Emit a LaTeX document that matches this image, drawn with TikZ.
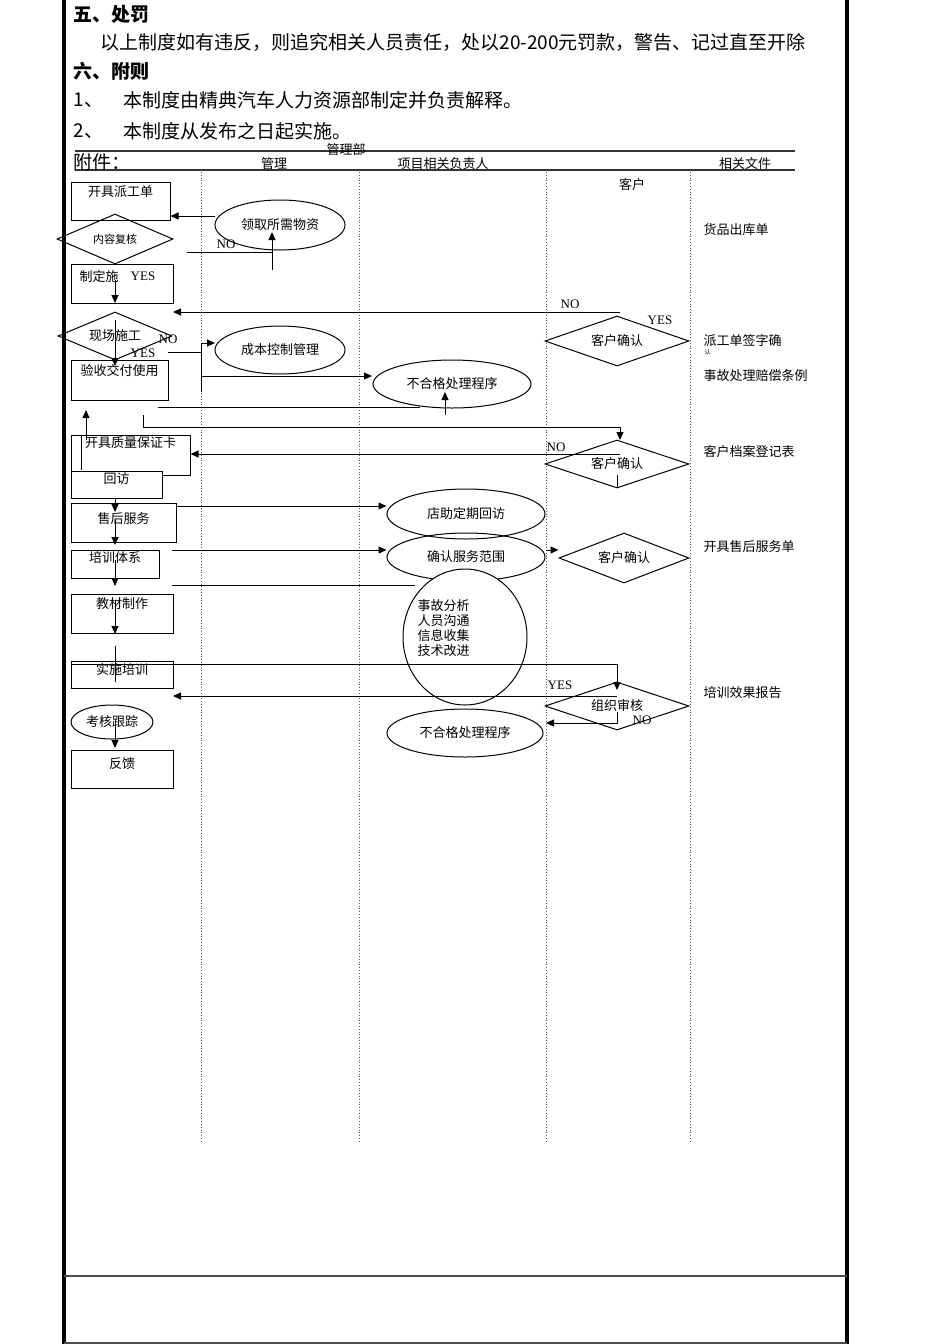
\documentclass[tikz,border=0pt]{standalone}
\usepackage{fontspec}
\setmainfont{Noto Sans CJK SC}
\newfontfamily\lat{Liberation Serif}
\usetikzlibrary{shapes.geometric,arrows.meta}
\begin{document}
\begin{tikzpicture}[x=0.5pt,y=-0.5pt,line width=0.5pt,
  every node/.style={font=\fontsize{6.5}{7.5}\selectfont,inner sep=0pt},
  box/.style={draw,rectangle},
  dia/.style={draw,diamond,aspect=2.6},
  ell/.style={draw,ellipse},
  lab/.style={font=\lat\fontsize{6.5}{7.5}\selectfont},
  doc/.style={anchor=west},
  body/.style={anchor=west,font=\fontsize{9.5}{11}\selectfont},
  arr/.style={-{Triangle[length=4pt,width=3.5pt]}},
  lane/.style={densely dotted,line width=0.4pt,gray!70!black}]
\useasboundingbox (0,0) rectangle (950,1344);
% frame
\draw[line width=1.6pt] (64,0) -- (64,1344);
\draw[line width=1.6pt] (847,0) -- (847,1344);
\draw[line width=0.9pt,gray!60!black] (64,1276) -- (847,1276);
\draw[line width=0.9pt,gray!60!black] (64,1343) -- (847,1343);
% top text
\node[body,font=\bfseries\fontsize{9.5}{11}\selectfont] (t1) at (73,14) {五、处罚};
\node[body] (t2) at (100,42) {以上制度如有违反，则追究相关人员责任，处以20-200元罚款，警告、记过直至开除};
\node[body,font=\bfseries\fontsize{9.5}{11}\selectfont] (t3) at (73,71) {六、附则};
\node[body] (t4) at (73,100) {1、};
\node[body] (t5) at (123,100) {本制度由精典汽车人力资源部制定并负责解释。};
\node[body] (t6) at (73,131) {2、};
\node[body] (t7) at (123,131) {本制度从发布之日起实施。};
% header
\draw[line width=0.8pt,gray!40!black] (75,151) -- (795,151);
\draw[line width=0.8pt,gray!40!black] (75,170) -- (795,170);
\node (h0) at (346,150) {管理部};
\node[body] (h1) at (73,162) {附件：};
\node (h2) at (274,164) {管理};
\node (h3) at (443,164) {项目相关负责人};
\node (h4) at (745,164) {相关文件};
\node (h5) at (632,185) {客户};
% lanes
\foreach \x in {201,359,546,690} \draw[lane] (\x,172) -- (\x,1143);
% boxes
\node[box,minimum width=49.5pt,minimum height=19pt,label={[anchor=north,yshift=-2pt]north:开具派工单}] (b1) at (120.5,201) {};
\node[dia,minimum width=58pt,minimum height=25pt,font=\fontsize{5.5}{6}\selectfont] (d1) at (115,239) {内容复核};
\node[ell,minimum width=65pt,minimum height=25pt] (e1) at (280,225) {领取所需物资};
\node[box,minimum width=51pt,minimum height=19.5pt] (b2) at (122,283.5) {};
\node[anchor=west] (b2t) at (79,277) {制定施};
\node[lab] (y1) at (143,276) {YES};
\node[dia,minimum width=57pt,minimum height=24pt] (d2) at (115,336) {现场施工};
\node[box,minimum width=48.5pt,minimum height=20pt,label={[anchor=north,yshift=-2pt]north:验收交付使用}] (b3) at (119.5,380) {};
\node[ell,minimum width=65pt,minimum height=24pt] (e2) at (280,350) {成本控制管理};
\node[ell,minimum width=79pt,minimum height=24pt] (e3) at (452,384) {不合格处理程序};
\node[dia,minimum width=72pt,minimum height=25pt] (d3) at (617,341) {客户确认};
\node[box,minimum width=59.5pt,minimum height=20pt,label={[anchor=north,yshift=-1pt]north:开具质量保证卡}] (b4) at (130.5,455) {};
\node[dia,minimum width=72pt,minimum height=24pt] (d4) at (617,464) {客户确认};
\node[box,fill=white,minimum width=45.5pt,minimum height=13.5pt,label={[anchor=north,yshift=-1pt]north:回访}] (b5) at (116.5,484.5) {};
\node[box,minimum width=52.5pt,minimum height=19.5pt,label={[anchor=north,yshift=-5pt]north:售后服务}] (b6) at (123.5,522.5) {};
\node[ell,minimum width=79pt,minimum height=25pt] (e4) at (466,514) {店助定期回访};
\node[box,minimum width=44pt,minimum height=14pt,label={[anchor=north,yshift=-1pt]north:培训体系}] (b7) at (115,564) {};
\node[ell,minimum width=79pt,minimum height=24pt] (e5) at (466,557) {确认服务范围};
\node[dia,minimum width=65pt,minimum height=25pt] (d5) at (624,558) {客户确认};
\node[ell,fill=white,minimum width=62pt,minimum height=68pt] (e6) at (465,637) {};
\node[anchor=north west,align=left] (e6t) at (417,599) {事故分析\\人员沟通\\信息收集\\技术改进};
\node[box,minimum width=51pt,minimum height=19.5pt,label={[anchor=north,yshift=-2pt]north:教材制作}] (b8) at (122,613.5) {};
\node[box,minimum width=51pt,minimum height=13.5pt,label={[anchor=north,yshift=-1pt]north:实施培训}] (b9) at (122,674.5) {};
\node[dia,minimum width=72pt,minimum height=24pt] (d6) at (617,706) {组织审核};
\node[ell,minimum width=41pt,minimum height=17pt] (e7) at (112,722) {考核跟踪};
\node[ell,minimum width=78pt,minimum height=24pt] (e8) at (465,733) {不合格处理程序};
\node[box,minimum width=51pt,minimum height=19pt,label={[anchor=north,yshift=-4pt]north:反馈}] (b10) at (122,769) {};
% labels
\node[lab] (n1) at (226,244) {NO};
\node[lab] (n2) at (570,304) {NO};
\node[lab] (n3) at (168,339) {NO};
\node[lab] (y2) at (143,353) {YES};
\node[lab] (y3) at (660,320) {YES};
\node[lab] (n4) at (556,447) {NO};
\node[lab] (y4) at (560,685) {YES};
\node[lab] (n5) at (642,720) {NO};
% docs
\node[doc] (f1) at (703,230) {货品出库单};
\node[doc] (f2) at (703,341) {派工单签字确};
\node[doc,font=\fontsize{3}{3}\selectfont] (f2b) at (704,352) {认};
\node[doc] (f3) at (703,376) {事故处理赔偿条例};
\node[doc] (f4) at (703,452) {客户档案登记表};
\node[doc] (f5) at (703,547) {开具售后服务单};
\node[doc] (f6) at (703,693) {培训效果报告};
% coordinates
\coordinate (c1) at (215,216); \coordinate (c1e) at (b1.east|-c1);
\coordinate (c2) at (187,252); \coordinate (c3) at (272,252);
\coordinate (c4) at (272,270); \coordinate (c5) at (272,232);
\coordinate (c6) at (115,280); \coordinate (c7) at (115,303);
\coordinate (c8) at (620,312); \coordinate (c9) at (173,312);
\coordinate (c10) at (115,320); \coordinate (c11) at (115,366);
\coordinate (c12) at (168,352); \coordinate (c13) at (201,352);
\coordinate (c14) at (201,343); \coordinate (c15) at (201,392);
\coordinate (c14e) at (215,343);
\coordinate (c16) at (201,376); \coordinate (c16e) at (372,376);
\coordinate (c17) at (158,407);
\coordinate (c18) at (420,407); \coordinate (c19) at (445,415);
\coordinate (c20) at (445,392); \coordinate (c21) at (86,440);
\coordinate (c22) at (86,410); \coordinate (c23) at (143,415);
\coordinate (c24) at (143,427); \coordinate (c25) at (620,427);
\coordinate (c26) at (620,440); \coordinate (c27) at (620,454);
\coordinate (c29) at (115,498);
\coordinate (c30) at (115,512); \coordinate (c31) at (176,506);
\coordinate (c32) at (115,520); \coordinate (c33) at (115,545);
\coordinate (c34) at (172,550); \coordinate (c35) at (546,550);
\coordinate (c36) at (115,560); \coordinate (c37) at (115,586);
\coordinate (c38) at (172,585); \coordinate (c39) at (415,585);
\coordinate (c40) at (115,600); \coordinate (c41) at (115,634);
\coordinate (c42) at (115,646); \coordinate (c43) at (115,682);
\coordinate (c44) at (71,664); \coordinate (c45) at (617,664);
\coordinate (c46) at (617,690); \coordinate (c47) at (617,696);
\coordinate (c48) at (173,696); \coordinate (c49) at (617,712);
\coordinate (c50) at (617,723); \coordinate (c51) at (546,723);
\coordinate (c52) at (115,724); \coordinate (c53) at (115,748);
\coordinate (c54) at (617,487); \coordinate (c55) at (617,475);
\coordinate (c56) at (81,435); \coordinate (c57) at (81,470);
% connectors
\draw[arr] (c1) -- (c1e);
\draw (c2) -- (c3);
\draw[arr] (c4) -- (c5);
\draw[arr] (c6) -- (c7);
\draw[arr] (c8) -- (c9);
\draw[arr] (c10) -- (c11);
\draw (c12) -- (c13);
\draw (c14) -- (c15);
\draw[arr] (c14) -- (c14e);
\draw[arr] (c16) -- (c16e);
\draw (c17) -- (c18);
\draw[arr] (c19) -- (c20);
\draw[arr] (c21) -- (c22);
\draw (c23) -- (c24);
\draw[arr] (c24) -- (c25) -- (c26);
\draw[arr] (c27) -- (b4.east|-c27);
\draw (c55) -- (c54);
\draw (c56) -- (c57);
\draw[arr] (c29) -- (c30);
\draw[arr] (c31) -- (e4.west|-c31);
\draw[arr] (c32) -- (c33);
\draw[arr] (c34) -- (e5.west|-c34);
\draw[arr] (c35) -- (d5.west|-c35);
\draw[arr] (c36) -- (c37);
\draw (c38) -- (c39);
\draw[arr] (c40) -- (c41);
\draw (c42) -- (c43);
\draw (c44) -- (c45);
\draw[arr] (c45) -- (c46);
\draw[arr] (c47) -- (c48);
\draw[arr] (c49) -- (c50) -- (c51);
\draw[arr] (c52) -- (c53);
\end{tikzpicture}
\end{document}
